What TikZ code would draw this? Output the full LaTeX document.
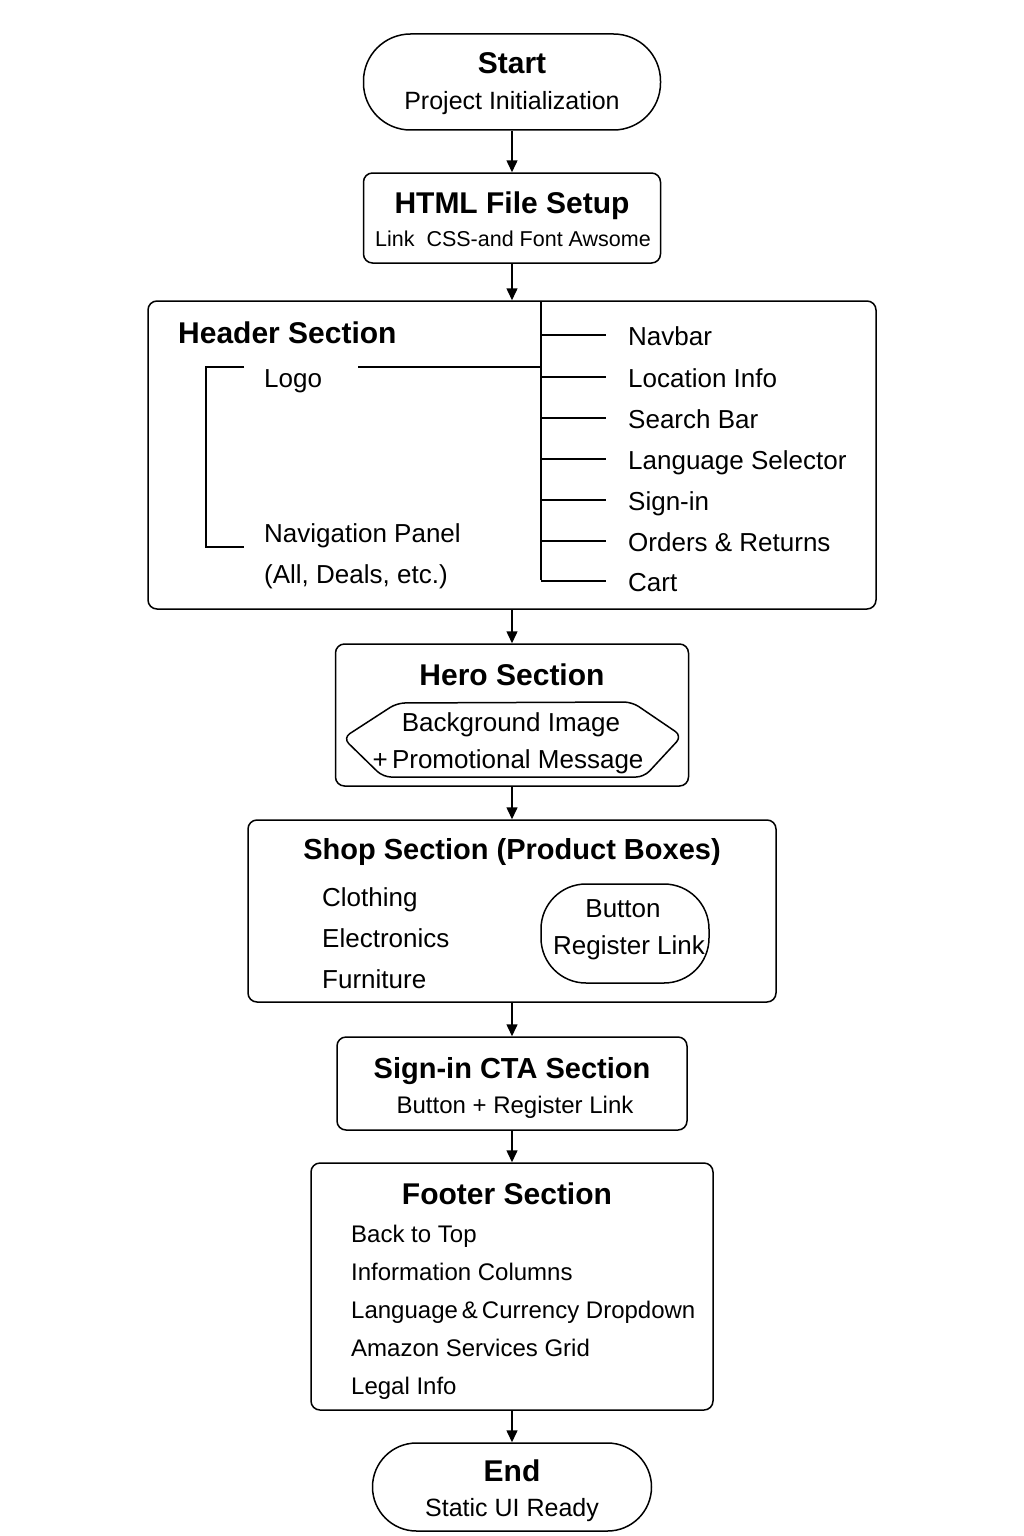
\documentclass[tikz,border=0pt]{standalone}
\usepackage{fontspec}
\setmainfont{Liberation Sans}
\usetikzlibrary{arrows.meta}
\begin{document}
\begin{tikzpicture}[x=1pt,y=-1pt,
 lw/.style={line width=1.5pt},
 box/.style={draw, lw, rounded corners=9pt, inner sep=0pt},
 ttl/.style={font=\fontsize{30}{36}\selectfont\bfseries, anchor=base, inner sep=0pt},
 txt/.style={font=\fontsize{26}{31}\selectfont, anchor=base, inner sep=0pt},
 ltxt/.style={txt, anchor=base west},
 ftxt/.style={font=\fontsize{24}{29}\selectfont, anchor=base west, inner sep=0pt},
 arr/.style={lw, -{Triangle[length=12pt,width=11pt]}},
]
\useasboundingbox (0,0) rectangle (1024,1536);
\fill[white] (0,0) rectangle (1024,1536);

% Start
\node[box, rounded corners=47pt, minimum width=297pt, minimum height=96pt] (start) at (512,82) {};
\node[ttl] (startt) at (512,74) {Start};
\node[txt, font=\fontsize{25}{30}\selectfont] (starts) at (512,110) {Project Initialization};

% HTML
\node[box, minimum width=297pt, minimum height=90pt] (html) at (512,218) {};
\node[ttl] (htmlt) at (512,213) {HTML File Setup};
\node[txt, font=\fontsize{21.5}{26}\selectfont] (htmls) at (513,246) {Link\ \ CSS-and Font Awsome};

% Header
\node[box, minimum width=728pt, minimum height=308pt] (header) at (512,455) {};
\node[ttl, anchor=base west] (headert) at (178,343) {Header Section};
\coordinate (spt) at (541,301);
\coordinate (spb) at (541,580);
\draw[lw] (spt) -- (spb);
\foreach \yy/\nm/\lab in {345/nav/Navbar, 387/loc/Location Info, 428/sea/Search Bar, 469/lang/Language Selector, 510/sign/Sign-in, 551/ord/Orders \& Returns, 591/cart/Cart}{
  \node[ltxt] (\nm) at (628,\yy) {\lab};
  \coordinate (\nm a) at (541,\yy-10);
  \coordinate (\nm b) at (606,\yy-10);
  \draw[lw] (\nm a) -- (\nm b);
}
\node[ltxt] (logo) at (264,387) {Logo};
\coordinate (logoa) at (358,367);
\coordinate (logob) at (541,367);
\draw[lw] (logoa) -- (logob);
\node[ltxt] (navp) at (264,542) {Navigation Panel};
\node[ltxt] (navp2) at (264,583) {(All, Deals, etc.)};
\coordinate (bra) at (244,367);
\coordinate (brb) at (244,547);
\draw[lw] (bra) -- (206,367) -- (206,547) -- (brb);

% Hero
\node[box, minimum width=353pt, minimum height=142pt] (hero) at (512,715) {};
\node[ttl] (herot) at (512,685) {Hero Section};
\draw[lw, rounded corners=8pt] (343,738) -- (397,703) -- (632,702) -- (682,736) -- (644,777) -- (383,777) -- cycle;
\node[txt] (hero1) at (511,731) {Background Image};
\node[txt] (hero2) at (508,768) {+\,Promotional Message};

% Shop
\node[box, minimum width=528pt, minimum height=182pt] (shop) at (512,911) {};
\node[ttl, font=\fontsize{29}{35}\selectfont\bfseries] (shopt) at (512,859) {Shop Section (Product Boxes)};
\node[ltxt] (cl) at (322,906) {Clothing};
\node[ltxt] (el) at (322,947) {Electronics};
\node[ltxt] (fu) at (322,988) {Furniture};
\node[box, rounded corners=45pt, minimum width=168pt, minimum height=99pt] (btn) at (625,933.5) {};
\node[txt] (btn1) at (623,917) {Button};
\node[txt] (btn2) at (629,954) {Register Link};

% Sign-in CTA
\node[box, minimum width=350pt, minimum height=93pt] (cta) at (512,1083.5) {};
\node[ttl, font=\fontsize{29}{35}\selectfont\bfseries] (ctat) at (512,1078) {Sign-in CTA Section};
\node[txt, font=\fontsize{24}{29}\selectfont] (ctas) at (515,1113) {Button + Register Link};

% Footer
\node[box, minimum width=402pt, minimum height=247pt] (foot) at (512,1286.5) {};
\node[ttl] (foott) at (507,1204) {Footer Section};
\node[ftxt] (f1) at (351,1242) {Back to Top};
\node[ftxt] (f2) at (351,1280) {Information Columns};
\node[ftxt] (f3) at (351,1318) {Language\,\&\,Currency Dropdown};
\node[ftxt] (f4) at (351,1356) {Amazon Services Grid};
\node[ftxt] (f5) at (351,1394) {Legal Info};

% End
\node[box, rounded corners=44pt, minimum width=279pt, minimum height=88pt] (end) at (512,1487) {};
\node[ttl] (endt) at (512,1481) {End};
\node[txt, font=\fontsize{25}{30}\selectfont] (ends) at (512,1516) {Static UI Ready};

% arrows
\draw[arr] (start.south) -- (html.north);
\draw[arr] (html.south) -- (header.north);
\draw[arr] (header.south) -- (hero.north);
\draw[arr] (hero.south) -- (shop.north);
\draw[arr] (shop.south) -- (cta.north);
\draw[arr] (cta.south) -- (foot.north);
\draw[arr] (foot.south) -- (end.north);
\end{tikzpicture}
\end{document}
